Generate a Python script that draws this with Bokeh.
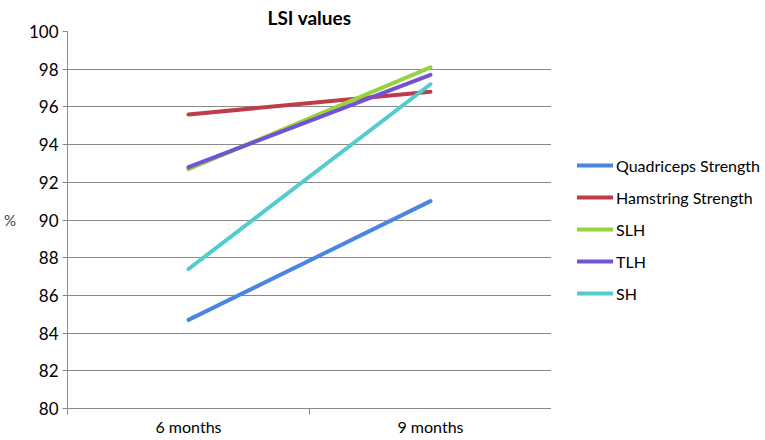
from bokeh.plotting import figure
from bokeh.models import Range1d, FixedTicker, Legend, LegendItem
from bokeh.layouts import row
from bokeh.embed import file_html
from bokeh.resources import INLINE

# ---- data ----
periods = ["6 months", "9 months"]
series_names = ["Quadriceps Strength", "Hamstring Strength", "SLH", "TLH", "SH"]
quadriceps = [84.7, 91.0]
hamstring = [95.6, 96.8]
slh = [92.7, 98.1]
tlh = [92.8, 97.7]
sh = [87.4, 97.2]
y_ticks = [80, 82, 84, 86, 88, 90, 92, 94, 96, 98, 100]

series_values = [quadriceps, hamstring, slh, tlh, sh]
colors = ["#4a86e0", "#be3b48", "#94d43c", "#7452d6", "#52cccc"]
FONT = "Lato"
GRID = "#8a8a8a"

x_pos = [i + 0.5 for i in range(len(periods))]
x_bounds = [float(i) for i in range(len(periods) + 1)]

p = figure(width=551, height=438, output_backend="svg", toolbar_location=None,
           x_range=Range1d(0, len(periods)), y_range=Range1d(y_ticks[0], y_ticks[-1]),
           min_border_left=64, min_border_right=0, min_border_top=0, min_border_bottom=0)

p.title.text = "LSI values"
p.title.align = "center"
p.title.text_font = FONT
p.title.text_font_size = "19px"
p.title.text_font_style = "bold"
p.title.text_color = "#000000"
p.title.standoff = 6

p.outline_line_color = None
p.background_fill_color = "white"
p.border_fill_color = "white"

# grid
p.xgrid.grid_line_color = None
p.ygrid.grid_line_color = GRID
p.ygrid.grid_line_width = 1

# y axis
p.yaxis.ticker = FixedTicker(ticks=y_ticks)
p.yaxis.axis_line_color = GRID
p.yaxis.major_tick_line_color = GRID
p.yaxis.major_tick_in = 0
p.yaxis.major_tick_out = 5
p.yaxis.minor_tick_line_color = None
p.yaxis.major_label_text_font = FONT
p.yaxis.major_label_text_font_size = "17px"
p.yaxis.major_label_text_color = "#000000"
p.yaxis.major_label_standoff = 4
p.yaxis.axis_label = "%"
p.yaxis.axis_label_orientation = "horizontal"
p.yaxis.axis_label_text_font = FONT
p.yaxis.axis_label_text_font_size = "15px"
p.yaxis.axis_label_text_font_style = "normal"
p.yaxis.axis_label_standoff = 10

# x axis: labels at category centres, tick marks between categories
p.xaxis.ticker = FixedTicker(ticks=x_pos, minor_ticks=x_bounds)
p.xaxis.major_label_overrides = {x: lab for x, lab in zip(x_pos, periods)}
p.xaxis.axis_label = None
p.xaxis.axis_line_color = GRID
p.xaxis.major_tick_line_color = None
p.xaxis.major_tick_in = 0
p.xaxis.major_tick_out = 6
p.xaxis.minor_tick_in = 0
p.xaxis.minor_tick_out = 6
p.xaxis.minor_tick_line_color = GRID
p.xaxis.major_label_text_font = FONT
p.xaxis.major_label_text_font_size = "16px"
p.xaxis.major_label_text_color = "#000000"
p.xaxis.major_label_standoff = 2

for vals, col in zip(series_values, colors):
    p.line(x_pos, vals, line_color=col, line_width=4, line_cap="round")

# ---- legend panel (separate figure to the right of the plot) ----
lg = figure(width=212, height=438, output_backend="svg", toolbar_location=None,
            min_border=0, x_range=Range1d(0, 1), y_range=Range1d(0, 1))
lg.axis.visible = False
lg.grid.visible = False
lg.outline_line_color = None
lg.background_fill_color = "white"
lg.border_fill_color = "white"

items = []
for name, vals, col in zip(series_names, series_values, colors):
    r = lg.line(x_pos, vals, line_color=col, line_width=4, line_cap="round", visible=False)
    items.append(LegendItem(label=name, renderers=[r]))

legend = Legend(items=items, location=(26, 99), orientation="vertical",
                glyph_width=36, glyph_height=32, label_height=32, spacing=0,
                padding=0, margin=0, label_standoff=3,
                label_text_font=FONT, label_text_font_size="16px",
                label_text_color="#000000", inactive_fill_alpha=0,
                border_line_color=None, background_fill_alpha=0)
lg.add_layout(legend, "center")

layout = row(p, lg)
open("out.html", "w").write(file_html(layout, INLINE))
